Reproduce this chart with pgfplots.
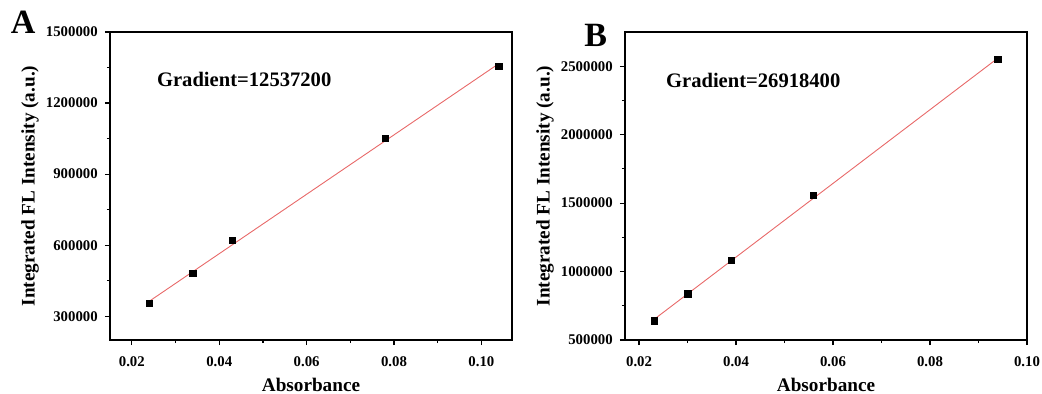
\documentclass[border=0pt]{standalone}
\usepackage{fontspec}
\setmainfont{Liberation Serif}
\usepackage{pgfplots}
\pgfplotsset{compat=1.18}
\definecolor{fitred}{RGB}{232,105,105}
\pgfplotsset{
  panel/.style={
    scale only axis, width=201pt, height=154pt,
    axis line style={line width=0.6pt},
    tick style={line width=0.6pt, black},
    tick align=outside, tick pos=left,
    major tick length=2.6pt, minor tick length=1.6pt,
    minor x tick num=1, minor y tick num=1,
    scaled x ticks=false, scaled y ticks=false,
    /pgf/number format/assume math mode=true,
    ticklabel style={font=\fontsize{7.4}{8}\selectfont\bfseries},
    xticklabel style={/pgf/number format/fixed, /pgf/number format/precision=2, /pgf/number format/fixed zerofill},
    yticklabel style={/pgf/number format/fixed, /pgf/number format/1000 sep={}},
    xtick={0.02,0.04,0.06,0.08,0.10},
    label style={font=\fontsize{9.6}{10}\selectfont\bfseries},
    xlabel={Absorbance},
    ylabel={Integrated FL Intensity (a.u.)},
    xlabel style={at={(axis description cs:0.5,0)}, anchor=center, yshift=-22.5pt},
    ylabel style={at={(axis description cs:-0.199,0.5)}, anchor=center},
    xticklabel shift=2pt,
    clip=false,
  }
}
\begin{document}
\begin{tikzpicture}
\useasboundingbox (-55pt,-27pt) rectangle (466pt,170pt);
\begin{axis}[panel,
  xmin=0.015, xmax=0.107, ymin=200000, ymax=1500000,
  ytick={300000,600000,900000,1200000,1500000}]
\addplot[fitred, line width=0.45pt] coordinates {(0.024,363700) (0.104,1366700)};
\addplot[only marks, mark=square*, mark size=1.6pt, black] coordinates {
 (0.024,354000) (0.034,480000) (0.043,621000) (0.078,1051000) (0.104,1356000)};
\node[anchor=west, font=\fontsize{10.3}{11}\selectfont\bfseries] at (axis description cs:0.0995,0.847) {Gradient=12537200};
\node[font=\fontsize{17}{18}\selectfont\bfseries] at (axis description cs:-0.216,1.03) {A};
\end{axis}
\begin{axis}[panel, at={(257.5pt,0pt)},
  xmin=0.0171, xmax=0.1, ymin=500000, ymax=2750000,
  ytick={500000,1000000,1500000,2000000,2500000}]
\addplot[fitred, line width=0.45pt] coordinates {(0.023,648100) (0.094,2559300)};
\addplot[only marks, mark=square*, mark size=1.6pt, black] coordinates {
 (0.0231,638800) (0.0301,836000) (0.0391,1079500) (0.056,1554500) (0.094,2548500)};
\node[anchor=west, font=\fontsize{10.3}{11}\selectfont\bfseries] at (axis description cs:0.0846,0.844) {Gradient=26918400};
\node[font=\fontsize{17}{18}\selectfont\bfseries] at (axis description cs:-0.073,0.99) {B};
\end{axis}
\end{tikzpicture}
\end{document}
